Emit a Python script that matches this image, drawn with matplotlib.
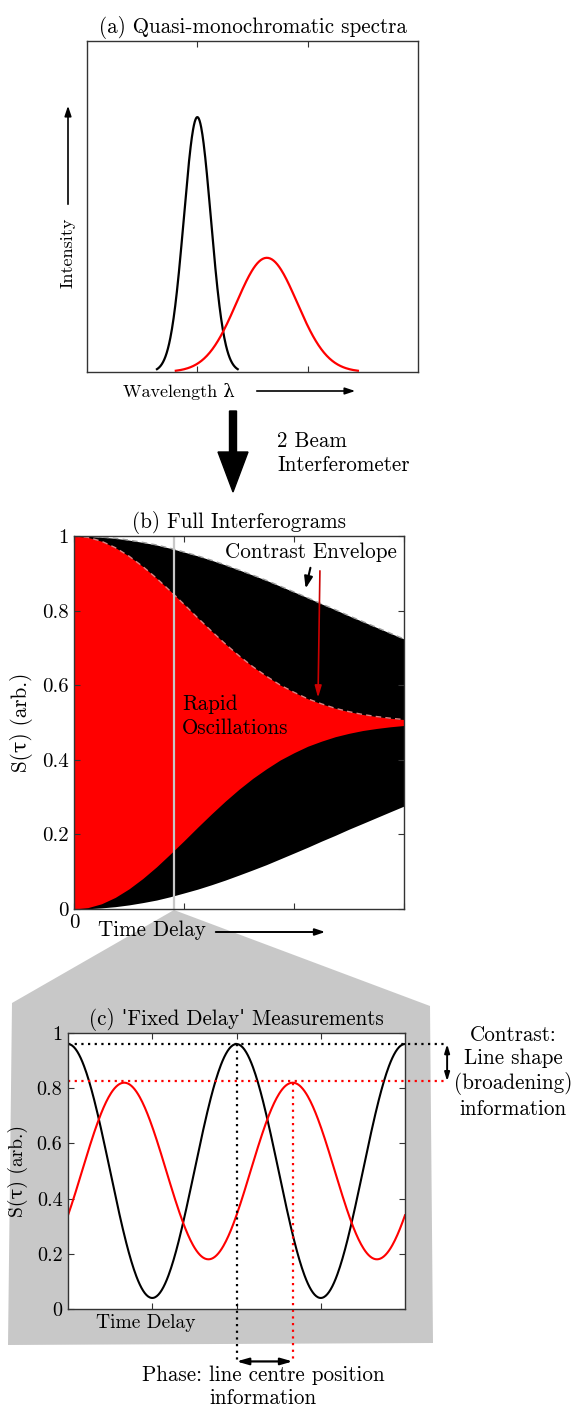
import numpy as np
import matplotlib
matplotlib.use("Agg")
import matplotlib.pyplot as plt
from matplotlib.patches import Polygon, FancyArrow

plt.rcParams['font.family'] = ['cmr10', 'DejaVu Serif']
plt.rcParams['axes.formatter.use_mathtext'] = True

# (a) spectra: two gaussian lines (black narrow, red broad)
line_colors = ['black', 'red']
line_centre = [1.0, 1.63]
line_sigma = [0.122, 0.275]
line_height = [0.77, 0.345]

# (b) upper envelopes of the interferograms (lower = 1 - upper)
delay_b = [0, 0.125, 0.25, 0.375, 0.5, 0.625, 0.75, 0.875, 1.0, 1.125, 1.25, 1.375,
           1.5, 1.625, 1.75, 1.875, 2.0, 2.125, 2.25, 2.375, 2.5, 2.625, 2.75, 2.875, 3.0]
env_black = [1.0, 0.9993, 0.997, 0.9938, 0.989, 0.9829, 0.976, 0.9671, 0.957, 0.9467,
             0.935, 0.9225, 0.909, 0.8952, 0.881, 0.8655, 0.850, 0.8344, 0.818, 0.8025,
             0.786, 0.7706, 0.755, 0.7394, 0.724]
env_red = [1.0, 0.9964, 0.986, 0.9689, 0.946, 0.9183, 0.887, 0.8525, 0.817, 0.7805,
           0.745, 0.7109, 0.679, 0.6498, 0.624, 0.6004, 0.581, 0.5636, 0.550, 0.5381,
           0.529, 0.5215, 0.516, 0.5115, 0.508]
delay_cut = 0.91

# (c) fixed delay fringes
fringe_mean = [0.5, 0.5]
fringe_amp = [0.46, 0.32]
fringe_peak = [0.0, 0.667]
fringe_period = 2.0

FS = 15.2
TFS = 15

fig = plt.figure(figsize=(5.74, 14.09), dpi=100)

# background overlay in pixel coordinates
bg = fig.add_axes([0, 0, 1, 1], zorder=0)
bg.set_xlim(0, 574)
bg.set_ylim(1409, 0)
bg.axis('off')


def style(ax):
    ax.tick_params(direction='in', top=True, right=True, length=4,
                   labelsize=TFS, color='#333333', pad=4)
    for s in ax.spines.values():
        s.set_color('#333333')
        s.set_linewidth(1.0)


# ---------- (a)
ax_a = fig.add_axes([87/574, 1-372/1409, 331/574, 331/1409], zorder=2)
style(ax_a)
for c, mu, sg, h in zip(line_colors, line_centre, line_sigma, line_height):
    x = np.linspace(mu - 3*sg, mu + 3*sg, 200)
    ax_a.plot(x, h*np.exp(-(x-mu)**2/(2*sg**2)), color=c, lw=1.6)
ax_a.set_xlim(0, 3)
ax_a.set_ylim(0, 1)
ax_a.set_xticks([1, 2])
ax_a.set_xticklabels([])
ax_a.set_yticks([])
ax_a.set_title('(a) Quasi-monochromatic spectra', fontsize=FS, pad=6)

bg.text(68, 253, 'Intensity', rotation=90, ha='center', va='center', fontsize=13)
bg.annotate('', xy=(68, 103), xytext=(68, 207),
            arrowprops=dict(arrowstyle='-|>,head_width=0.2,head_length=0.6', color='black', lw=1.2))
bg.text(179, 392, 'Wavelength λ', ha='center', va='center', fontsize=13)
bg.annotate('', xy=(358, 391), xytext=(254, 391),
            arrowprops=dict(arrowstyle='-|>,head_width=0.2,head_length=0.6', color='black', lw=1.2))

bg.add_patch(FancyArrow(233, 411, 0, 81, width=7, head_width=30, head_length=40,
                        length_includes_head=True, color='black'))
bg.text(277, 453, '2 Beam\nInterferometer', ha='left', va='center', fontsize=FS,
        linespacing=1.3)

# ---------- (b)
ax_b = fig.add_axes([74/574, 1-909/1409, 330/574, 373/1409], zorder=2)
style(ax_b)
up_k = np.array(env_black)
up_r = np.array(env_red)
ax_b.fill_between(delay_b, 1-up_k, up_k, color='black', lw=0)
ax_b.fill_between(delay_b, 1-up_r, up_r, color='red', lw=0)
ax_b.plot(delay_b, up_k, '--', color='#9a9a9a', lw=1.0, dashes=(4, 3))
ax_b.plot(delay_b, up_r, '--', color='#e08080', lw=1.0, dashes=(4, 3))
ax_b.axvline(delay_cut, color='#c8c8c8', lw=1.6)
ax_b.set_xlim(0, 3)
ax_b.set_ylim(0, 1)
ax_b.set_xticks([0, 1, 2, 3])
ax_b.set_xticklabels(['0', '', '', ''])
ax_b.set_yticks([0, 0.2, 0.4, 0.6, 0.8, 1])
ax_b.set_yticklabels(['0', '0.2', '0.4', '0.6', '0.8', '1'])
ax_b.set_ylabel('S(τ) (arb.)', fontsize=FS, labelpad=6)
ax_b.set_title('(b) Full Interferograms', fontsize=FS, pad=6)
ax_b.text(2.155, 0.957, 'Contrast Envelope', ha='center', va='center', fontsize=FS)
ax_b.annotate('', xy=(2.10, 0.852), xytext=(2.155, 0.922),
              arrowprops=dict(arrowstyle='-|>,head_width=0.25,head_length=0.7', color='black', lw=1.5))
ax_b.annotate('', xy=(2.218, 0.559), xytext=(2.236, 0.914),
              arrowprops=dict(arrowstyle='-|>,head_width=0.2,head_length=0.7', color='#cc0000', lw=1.2))
ax_b.text(0.98, 0.517, 'Rapid\nOscillations', ha='left', va='center', fontsize=FS,
          linespacing=1.25)

bg.add_patch(Polygon([(174, 910), (12, 1003), (8, 1345), (433, 1343), (430, 1006)],
                     closed=True, facecolor='#c8c8c8', edgecolor='none', zorder=1))
bg.text(152, 930, 'Time Delay', ha='center', va='center', fontsize=FS, zorder=3)
bg.annotate('', xy=(328, 932), xytext=(213, 932),
            arrowprops=dict(arrowstyle='-|>,head_width=0.2,head_length=0.6', color='black', lw=1.4),
            zorder=3)

# ---------- (c)
ax_c = fig.add_axes([68/574, 1-1309/1409, 337/574, 276/1409], zorder=2)
style(ax_c)
ax_c.tick_params(labelsize=14.5)
t = np.linspace(0, 4, 400)
for c, m, a, p in zip(line_colors, fringe_mean, fringe_amp, fringe_peak):
    ax_c.plot(t, m + a*np.cos(2*np.pi*(t-p)/fringe_period), color=c, lw=1.5)
ax_c.set_xlim(0, 4)
ax_c.set_ylim(0, 1)
ax_c.set_xticks([1, 2, 3])
ax_c.set_xticklabels([])
ax_c.set_yticks([0, 0.2, 0.4, 0.6, 0.8, 1])
ax_c.set_yticklabels(['0', '0.2', '0.4', '0.6', '0.8', '1'])
ax_c.set_ylabel('S(τ) (arb.)', fontsize=14, labelpad=6)
ax_c.set_title("(c) \u02c8Fixed Delay\u02c8 Measurements", fontsize=FS, pad=6)
ax_c.text(0.231, -0.05, 'Time Delay', transform=ax_c.transAxes, ha='center', va='center',
          fontsize=14)

pk_k = fringe_mean[0] + fringe_amp[0]
pk_r = fringe_mean[1] + fringe_amp[1]
dot = dict(lw=1.6, linestyle=(0, (1, 2)), clip_on=False)
ax_c.plot([0, 4.5], [pk_k, pk_k], color='black', **dot)
ax_c.plot([0, 4.5], [pk_r + 0.005, pk_r + 0.005], color='red', **dot)
ax_c.plot([2, 2], [pk_k, -0.19], color='black', **dot)
ax_c.plot([2 + fringe_peak[1], 2 + fringe_peak[1]], [pk_r, -0.19], color='red', **dot)
ax_c.annotate('', xy=(4.5, pk_r + 0.005), xytext=(4.5, pk_k), annotation_clip=False,
              arrowprops=dict(arrowstyle='<|-|>,head_width=0.15,head_length=0.5', color='black',
                              lw=1.4, shrinkA=0, shrinkB=0))
ax_c.annotate('', xy=(2 + fringe_peak[1], -0.19), xytext=(2, -0.19), annotation_clip=False,
              arrowprops=dict(arrowstyle='<|-|>,head_width=0.2,head_length=0.7', color='black',
                              lw=1.6, shrinkA=0, shrinkB=0))

bg.text(513, 1072, 'Contrast:\nLine shape\n(broadening)\ninformation', ha='center',
        va='center', fontsize=FS, linespacing=1.25)
bg.text(263, 1387, 'Phase: line centre position\ninformation', ha='center', va='center',
        fontsize=FS, linespacing=1.25)

fig.savefig('out.png', dpi=100)
